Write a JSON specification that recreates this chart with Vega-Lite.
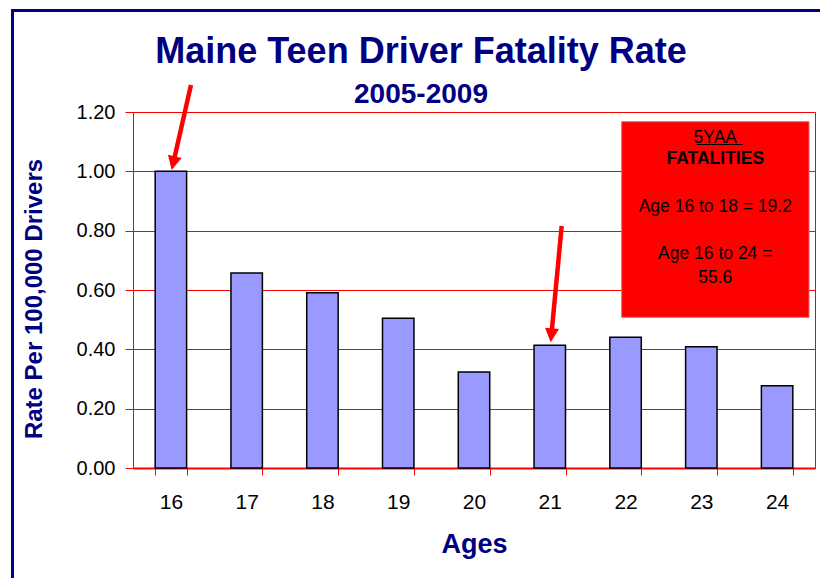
{
  "$schema": "https://vega.github.io/schema/vega-lite/v6.json",
  "width": 682,
  "height": 356,
  "autosize": {"type": "none"},
  "padding": {"left": 133, "top": 112, "right": 5, "bottom": 110},
  "background": "white",
  "config": {
    "font": "Liberation Sans",
    "view": {"stroke": "#ff0000", "strokeWidth": 1}
  },
  "title": {
    "text": "Maine Teen Driver Fatality Rate",
    "subtitle": "2005-2009",
    "anchor": "middle",
    "frame": "group",
    "dx": -53,
    "offset": -102,
    "font": "Liberation Sans",
    "fontSize": 36,
    "fontWeight": "bold",
    "color": "#000080",
    "subtitleFont": "Liberation Sans",
    "subtitleFontSize": 28,
    "subtitleFontWeight": "bold",
    "subtitleColor": "#000080",
    "subtitlePadding": 10
  },
  "layer": [
    {
      "data": {
        "values": [
          {"age": "16", "rate": 1.0},
          {"age": "17", "rate": 0.657},
          {"age": "18", "rate": 0.591},
          {"age": "19", "rate": 0.505},
          {"age": "20", "rate": 0.324},
          {"age": "21", "rate": 0.414},
          {"age": "22", "rate": 0.441},
          {"age": "23", "rate": 0.409},
          {"age": "24", "rate": 0.277}
        ]
      },
      "mark": {"type": "bar", "fill": "#9999ff", "stroke": "#000000", "strokeWidth": 1.5},
      "encoding": {
        "x": {
          "field": "age",
          "type": "ordinal",
          "scale": {"paddingInner": 0.585, "paddingOuter": 0.2925},
          "axis": {
            "title": "Ages",
            "labelAngle": 0,
            "tickBand": "extent",
            "grid": false,
            "domainColor": "#ff0000",
            "domainWidth": 2,
            "tickColor": "#ff0000",
            "tickSize": 7,
            "labelFontSize": 21,
            "labelColor": "#000000",
            "labelPadding": 16,
            "titleFontSize": 27,
            "titleFontWeight": "bold",
            "titleColor": "#000080",
            "titleBaseline": "alphabetic",
            "titleY": 84
          }
        },
        "y": {
          "field": "rate",
          "type": "quantitative",
          "scale": {"domain": [0, 1.2], "nice": false, "zero": true},
          "axis": {
            "title": "Rate Per 100,000 Drivers",
            "values": [0, 0.2, 0.4, 0.6, 0.8, 1.0, 1.2],
            "format": ".2f",
            "grid": true,
            "gridColor": "#ff0000",
            "gridWidth": 1,
            "domainColor": "#ff0000",
            "tickColor": "#ff0000",
            "tickSize": 8,
            "labelPadding": 10,
            "labelFontSize": 20,
            "labelColor": "#000000",
            "titleFontSize": 24,
            "titleFontWeight": "bold",
            "titleColor": "#000080",
            "titleAngle": -90,
            "titleBaseline": "alphabetic",
            "titleX": -91.5,
            "titleY": 186.5
          }
        }
      }
    },
    {
      "data": {"values": [{}]},
      "layer": [
        {
          "mark": {"type": "rule", "color": "#000080", "strokeWidth": 3, "strokeCap": "butt"},
          "encoding": {
            "x": {"datum": 13.91, "type": "quantitative", "scale": {"domain": [15.5, 24.5], "nice": false, "zero": false}, "axis": null},
            "x2": {"datum": 24.566},
            "y": {"datum": 1.5421, "type": "quantitative", "scale": {"domain": [0, 1.2], "nice": false}}
          }
        },
        {
          "mark": {"type": "rule", "color": "#000080", "strokeWidth": 3, "strokeCap": "butt"},
          "encoding": {
            "x": {"datum": 13.91, "type": "quantitative", "scale": {"domain": [15.5, 24.5], "nice": false, "zero": false}, "axis": null},
            "y": {"datum": 1.5471, "type": "quantitative", "scale": {"domain": [0, 1.2], "nice": false}},
            "y2": {"datum": -0.3708}
          }
        },
        {
          "mark": {"type": "rule", "color": "#ff0000", "strokeWidth": 4.5},
          "encoding": {
            "x": {"datum": 16.265, "type": "quantitative", "scale": {"domain": [15.5, 24.5], "nice": false, "zero": false}, "axis": null},
            "x2": {"datum": 16.031},
            "y": {"datum": 1.291, "type": "quantitative", "scale": {"domain": [0, 1.2], "nice": false}},
            "y2": {"datum": 1.0275}
          }
        },
        {
          "mark": {"type": "point", "shape": "M0,1L-1,-1L1,-1Z", "filled": true, "color": "#ff0000", "opacity": 1, "size": 196, "angle": 12.8},
          "encoding": {
            "x": {"datum": 16.031, "type": "quantitative", "scale": {"domain": [15.5, 24.5], "nice": false, "zero": false}, "axis": null},
            "y": {"datum": 1.0275, "type": "quantitative", "scale": {"domain": [0, 1.2], "nice": false}}
          }
        },
        {
          "mark": {"type": "rule", "color": "#ff0000", "strokeWidth": 4.5},
          "encoding": {
            "x": {"datum": 21.157, "type": "quantitative", "scale": {"domain": [15.5, 24.5], "nice": false, "zero": false}, "axis": null},
            "x2": {"datum": 21.021},
            "y": {"datum": 0.8157, "type": "quantitative", "scale": {"domain": [0, 1.2], "nice": false}},
            "y2": {"datum": 0.4472}
          }
        },
        {
          "mark": {"type": "point", "shape": "M0,1L-1,-1L1,-1Z", "filled": true, "color": "#ff0000", "opacity": 1, "size": 196, "angle": 5.4},
          "encoding": {
            "x": {"datum": 21.021, "type": "quantitative", "scale": {"domain": [15.5, 24.5], "nice": false, "zero": false}, "axis": null},
            "y": {"datum": 0.4472, "type": "quantitative", "scale": {"domain": [0, 1.2], "nice": false}}
          }
        },
        {
          "mark": {"type": "rect", "fill": "#ff0000", "stroke": "#ff5a5a", "strokeWidth": 1},
          "encoding": {
            "x": {"datum": 21.949, "type": "quantitative", "scale": {"domain": [15.5, 24.5], "nice": false, "zero": false}, "axis": null},
            "x2": {"datum": 24.421},
            "y": {"datum": 1.1673, "type": "quantitative", "scale": {"domain": [0, 1.2], "nice": false}},
            "y2": {"datum": 0.508}
          }
        },
        {
          "mark": {"type": "text", "text": "5YAA", "fontSize": 17.5, "align": "center", "baseline": "alphabetic", "color": "#000000"},
          "encoding": {
            "x": {"datum": 23.184, "type": "quantitative", "scale": {"domain": [15.5, 24.5], "nice": false, "zero": false}, "axis": null},
            "y": {"datum": 1.0965, "type": "quantitative", "scale": {"domain": [0, 1.2], "nice": false}}
          }
        },
        {
          "mark": {"type": "rule", "color": "#000000", "strokeWidth": 1.2},
          "encoding": {
            "x": {"datum": 22.939, "type": "quantitative", "scale": {"domain": [15.5, 24.5], "nice": false, "zero": false}, "axis": null},
            "x2": {"datum": 23.546},
            "y": {"datum": 1.0905, "type": "quantitative", "scale": {"domain": [0, 1.2], "nice": false}}
          }
        },
        {
          "mark": {"type": "text", "text": "FATALITIES", "fontSize": 17.5, "fontWeight": "bold", "align": "center", "baseline": "alphabetic", "color": "#000000"},
          "encoding": {
            "x": {"datum": 23.184, "type": "quantitative", "scale": {"domain": [15.5, 24.5], "nice": false, "zero": false}, "axis": null},
            "y": {"datum": 1.0247, "type": "quantitative", "scale": {"domain": [0, 1.2], "nice": false}}
          }
        },
        {
          "mark": {"type": "text", "text": "Age 16 to 18 = 19.2", "fontSize": 17.5, "align": "center", "baseline": "alphabetic", "color": "#000000"},
          "encoding": {
            "x": {"datum": 23.184, "type": "quantitative", "scale": {"domain": [15.5, 24.5], "nice": false, "zero": false}, "axis": null},
            "y": {"datum": 0.8639, "type": "quantitative", "scale": {"domain": [0, 1.2], "nice": false}}
          }
        },
        {
          "mark": {"type": "text", "text": "Age 16 to 24 =", "fontSize": 17.5, "align": "center", "baseline": "alphabetic", "color": "#000000"},
          "encoding": {
            "x": {"datum": 23.184, "type": "quantitative", "scale": {"domain": [15.5, 24.5], "nice": false, "zero": false}, "axis": null},
            "y": {"datum": 0.7035, "type": "quantitative", "scale": {"domain": [0, 1.2], "nice": false}}
          }
        },
        {
          "mark": {"type": "text", "text": "55.6", "fontSize": 17.5, "align": "center", "baseline": "alphabetic", "color": "#000000"},
          "encoding": {
            "x": {"datum": 23.184, "type": "quantitative", "scale": {"domain": [15.5, 24.5], "nice": false, "zero": false}, "axis": null},
            "y": {"datum": 0.6226, "type": "quantitative", "scale": {"domain": [0, 1.2], "nice": false}}
          }
        }
      ]
    }
  ],
  "resolve": {"scale": {"x": "independent"}}
}
